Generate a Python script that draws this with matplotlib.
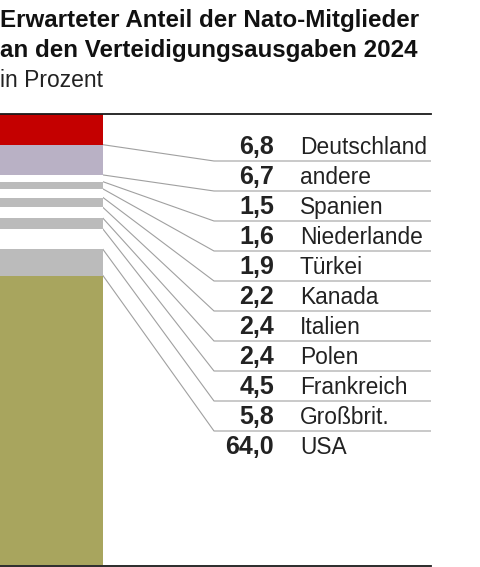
import matplotlib.pyplot as plt
import numpy as np

# Daten: erwarteter Anteil an den Verteidigungsausgaben 2024 (in Prozent)
countries = ["Deutschland", "andere", "Spanien", "Niederlande", "Türkei", "Kanada",
             "Italien", "Polen", "Frankreich", "Großbrit.", "USA"]
shares = [6.8, 6.7, 1.5, 1.6, 1.9, 2.2, 2.4, 2.4, 4.5, 5.8, 64.0]
colors = ["#c40000", "#b9b1c5", "#ffffff", "#bbbbbb", "#ffffff", "#bbbbbb",
          "#ffffff", "#bbbbbb", "#ffffff", "#bbbbbb", "#a8a55e"]

W, H = 480, 567
fig = plt.figure(figsize=(W / 100, H / 100), dpi=100)
plt.rcParams['font.family'] = ['Liberation Sans', 'DejaVu Sans']

# Achse: x in Pixeln, y in Prozent (0 oben, 100 unten)
top_px, bot_px, right_px = 114, 565.5, 431
ax = fig.add_axes([0, (H - bot_px) / H, right_px / W, (bot_px - top_px) / H])
ax.set_xlim(0, right_px)
ax.set_ylim(100, 0)
ax.axis('off')

bottoms = np.concatenate([[0], np.cumsum(shares)[:-1]])
ax.bar(0, shares, width=103, bottom=bottoms, align='edge', color=colors,
       linewidth=0, zorder=2)

# obere und untere Linie
ax.axhline(0, color='#1a1a1a', lw=1.3, zorder=3, clip_on=False)
ax.axhline(100, color='#1a1a1a', lw=1.3, zorder=3, clip_on=False)

# Beschriftung: Zeilen in gleichmäßigem Abstand
px_per_pct = (bot_px - top_px) / 100
row0 = (154 - top_px) / px_per_pct     # Grundlinie der ersten Zeile
row_step = 30 / px_per_pct
under_off = 7 / px_per_pct
ends = np.cumsum(shares)

for i, (name, val) in enumerate(zip(countries, shares)):
    yb = row0 + i * row_step
    ax.text(274, yb, f"{val:.1f}".replace(".", ","), ha='right', va='baseline',
            fontsize=18, fontweight='bold', color='#222222')
    ax.text(300, yb, name, ha='left', va='baseline', fontsize=16.4, color='#222222')
    if i < len(countries) - 1:
        yu = yb + under_off
        ax.plot([103, 214, right_px], [ends[i], yu, yu], color='#a0a0a0',
                lw=0.8, zorder=1, solid_joinstyle='miter')

# Titel
fig.text(0, 1 - 27 / H, "Erwarteter Anteil der Nato-Mitglieder", ha='left',
         va='baseline', fontsize=17.4, fontweight='bold', color='#111111')
fig.text(0, 1 - 57 / H, "an den Verteidigungsausgaben 2024", ha='left',
         va='baseline', fontsize=17.4, fontweight='bold', color='#111111')
fig.text(0, 1 - 87 / H, "in Prozent", ha='left', va='baseline',
         fontsize=16.5, color='#222222')

fig.savefig("out.png", dpi=100, facecolor='white')
